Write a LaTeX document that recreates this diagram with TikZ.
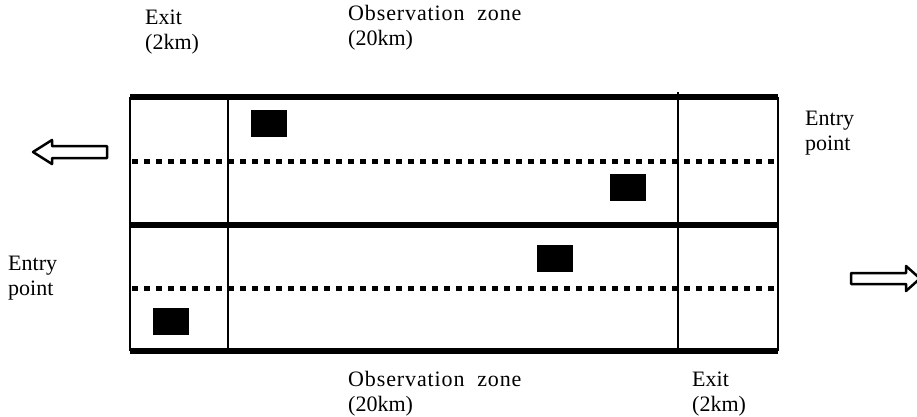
\documentclass[tikz,border=0pt]{standalone}
\usepackage{fontspec}
\setmainfont{Liberation Serif}
\newfontfamily\widefont[LetterSpace=4,WordSpace=2]{Liberation Serif}
\begin{document}
\begin{tikzpicture}[x=1pt,y=-1pt,
  lbl/.style={anchor=base west,inner sep=0pt,align=left,font=\fontsize{22}{24.5}\selectfont},
  road/.style={line width=5.5pt},
  side/.style={line width=2.5pt},
  lanemark/.style={line width=5pt,dash pattern=on 6pt off 6pt},
  vehicle/.style={fill=black,draw=none,minimum width=36pt,minimum height=27pt,inner sep=0pt},
  bigarrow/.style={draw=black,fill=white,line width=2.5pt,line join=round}]
\useasboundingbox (0,0) rectangle (917,416);

% road outline
\coordinate (tl) at (130,97);
\coordinate (tr) at (778,97);
\coordinate (ml) at (130,225);
\coordinate (mr) at (778,225);
\coordinate (bl) at (130,351);
\coordinate (br) at (778,351);
\draw[side] (tl) -- (bl);
\draw[side] (tr) -- (br);
\draw[road] (tl) -- (tr);
\draw[road] (ml) -- (mr);
\draw[road] (bl) -- (br);

% zone boundaries
\coordinate (z1t) at (228,97);
\coordinate (z1b) at (228,351);
\coordinate (z2t) at (678,92);
\coordinate (z2b) at (678,351);
\draw[side] (z1t) -- (z1b);
\draw[side] (z2t) -- (z2b);

% lane markings
\coordinate (d1l) at (132,161);
\coordinate (d1r) at (776,161);
\coordinate (d2l) at (132,288);
\coordinate (d2r) at (776,288);
\draw[lanemark] (d1l) -- (d1r);
\draw[lanemark] (d2l) -- (d2r);

% vehicles
\node[vehicle] (v1) at (268.5,123) {};
\node[vehicle] (v2) at (627.5,187) {};
\node[vehicle] (v3) at (555,258.5) {};
\node[vehicle] (v4) at (170.5,321) {};

% direction arrows
\draw[bigarrow] (33,152) -- (52,140) -- (52,146) -- (107,146) -- (107,158) -- (52,158) -- (52,164) -- cycle;
\draw[bigarrow] (851,273) -- (906,273) -- (906,266) -- (920,278.5) -- (906,291) -- (906,284) -- (851,284) -- cycle;

% labels (anchored at the baseline of their last line)
\node[lbl] (exitTop) at (145,49) {Exit\\(2km)};
\node[lbl] (obsTop) at (348,45) {{\widefont Observation zone}\\(20km)};
\node[lbl] (entryRight) at (805,150) {Entry\\point};
\node[lbl] (entryLeft) at (8,295) {Entry\\point};
\node[lbl] (obsBot) at (348,411) {{\widefont Observation zone}\\(20km)};
\node[lbl] (exitBot) at (692,411) {Exit\\(2km)};
\end{tikzpicture}
\end{document}
